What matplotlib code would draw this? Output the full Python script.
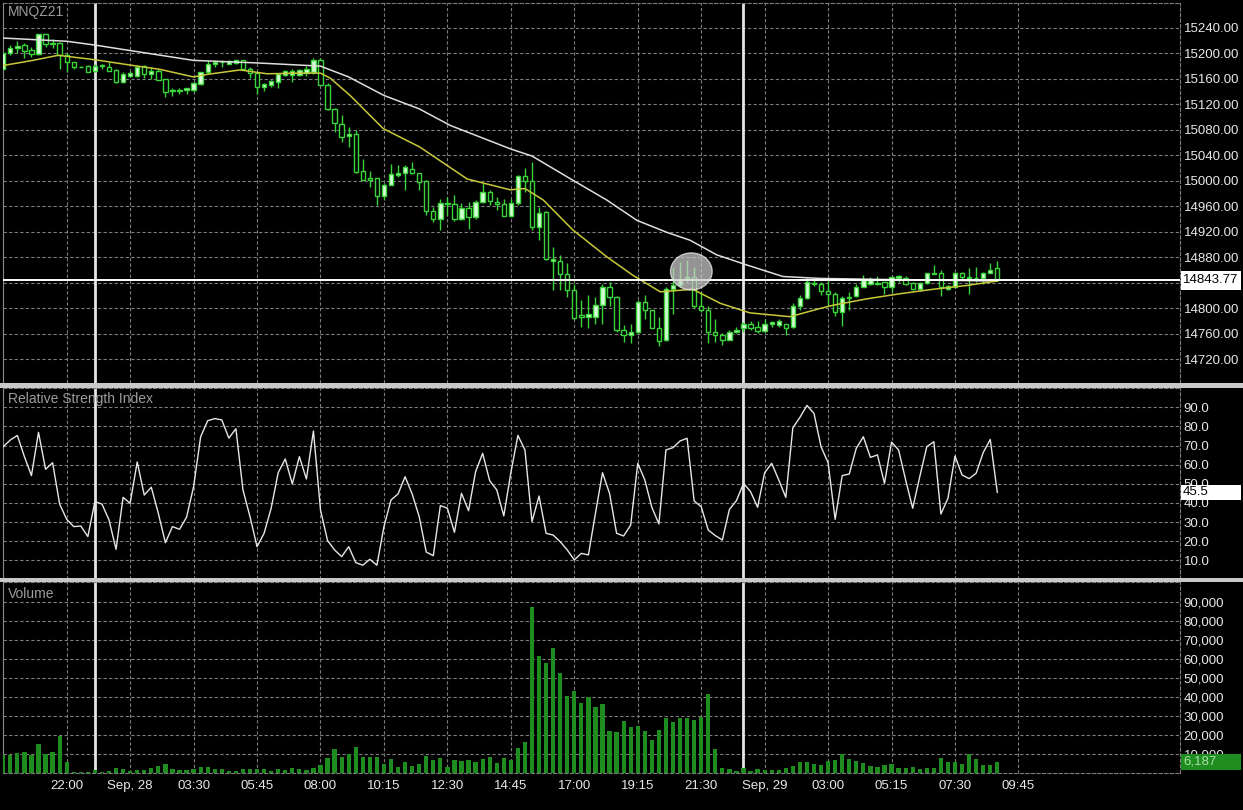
import numpy as np
import matplotlib
matplotlib.use("Agg")
import matplotlib.pyplot as plt
from matplotlib.patches import Rectangle, Ellipse
from matplotlib.transforms import blended_transform_factory
from matplotlib.ticker import FixedLocator, FuncFormatter

plt.rcParams['font.family'] = ['Liberation Sans', 'DejaVu Sans']

# ---------------- data ----------------
symbol = "MNQZ21"
rsi_title = "Relative Strength Index"
vol_title = "Volume"

opens = [15175, 15200, 15208, 15213, 15205, 15199, 15230, 15214, 15217, 15197,
         15186, 15179, 15180, 15172, 15180, 15179, 15174, 15155, 15164, 15165,
         15180, 15168, 15172, 15160, 15141, 15141, 15142, 15143, 15152, 15170,
         15184, 15186, 15184, 15185, 15189, 15176, 15169, 15148, 15151, 15155,
         15166, 15166, 15166, 15169, 15170, 15190, 15151, 15112, 15090, 15070,
         15074, 15015, 15005, 15004, 14977, 14994, 15010, 15013, 15018, 15013,
         15000, 14953, 14941, 14963, 14963, 14940, 14957, 14944, 14967, 14983,
         14967, 14963, 14945, 14965, 15008, 15000, 14928, 14951, 14874, 14874,
         14854, 14829, 14790, 14787, 14786, 14805, 14834, 14818, 14766, 14758,
         14763, 14810, 14797, 14770, 14750, 14831, 14837, 14847, 14850, 14803,
         14797, 14763, 14758, 14751, 14763, 14770, 14776, 14771, 14765, 14775,
         14774, 14775, 14771, 14803, 14816, 14839, 14839, 14828, 14823, 14795,
         14816, 14819, 14834, 14839, 14839, 14841, 14833, 14847, 14848, 14840,
         14830, 14840, 14854, 14856, 14831, 14834, 14856, 14850, 14847, 14848,
         14856, 14863]
highs = [15201, 15213, 15220, 15217, 15210, 15231, 15231, 15222, 15218, 15200,
         15186, 15180, 15181, 15184, 15184, 15186, 15175, 15171, 15173, 15182,
         15182, 15179, 15176, 15160, 15145, 15145, 15146, 15155, 15171, 15189,
         15189, 15189, 15190, 15190, 15190, 15179, 15171, 15154, 15158, 15169,
         15174, 15176, 15176, 15180, 15192, 15192, 15153, 15114, 15103, 15085,
         15080, 15034, 15016, 15005, 14996, 15027, 15025, 15025, 15030, 15013,
         15001, 14959, 14972, 14974, 14978, 14965, 14967, 14970, 14996, 14986,
         14975, 14972, 14972, 15009, 15020, 15030, 14959, 14952, 14897, 14883,
         14871, 14839, 14813, 14821, 14818, 14839, 14842, 14819, 14774, 14775,
         14813, 14821, 14798, 14787, 14834, 14865, 14873, 14876, 14865, 14826,
         14803, 14784, 14762, 14766, 14771, 14779, 14781, 14781, 14784, 14781,
         14784, 14775, 14808, 14821, 14847, 14844, 14842, 14844, 14826, 14820,
         14826, 14839, 14852, 14850, 14851, 14842, 14851, 14852, 14851, 14842,
         14842, 14856, 14868, 14860, 14837, 14857, 14857, 14863, 14865, 14857,
         14871, 14874]
lows = [15174, 15197, 15200, 15192, 15195, 15197, 15210, 15209, 15176, 15171,
        15176, 15178, 15170, 15170, 15176, 15173, 15154, 15154, 15163, 15163,
        15161, 15160, 15158, 15132, 15133, 15136, 15136, 15140, 15150, 15168,
        15179, 15179, 15183, 15183, 15174, 15162, 15136, 15141, 15148, 15146,
        15164, 15155, 15164, 15165, 15168, 15150, 15111, 15077, 15061, 15053,
        15012, 15001, 14990, 14962, 14970, 14993, 15006, 14986, 15011, 14986,
        14946, 14936, 14923, 14946, 14937, 14938, 14925, 14941, 14966, 14962,
        14955, 14945, 14944, 14962, 14983, 14923, 14907, 14876, 14829, 14829,
        14818, 14784, 14771, 14769, 14775, 14775, 14803, 14763, 14748, 14745,
        14762, 14784, 14769, 14741, 14749, 14792, 14834, 14842, 14801, 14795,
        14746, 14748, 14742, 14750, 14762, 14763, 14766, 14761, 14763, 14771,
        14771, 14758, 14770, 14798, 14814, 14835, 14821, 14803, 14788, 14772,
        14797, 14818, 14833, 14837, 14837, 14823, 14826, 14842, 14837, 14829,
        14828, 14839, 14854, 14820, 14829, 14833, 14844, 14822, 14842, 14839,
        14855, 14843]
closes = [15200, 15208, 15212, 15204, 15199, 15230, 15215, 15217, 15197, 15186,
          15179, 15178.5, 15171, 15180, 15181, 15173, 15155, 15168, 15169, 15179,
          15168, 15172, 15158, 15140, 15143, 15143, 15145, 15153, 15170, 15184,
          15187, 15187, 15188, 15189, 15175, 15169, 15148, 15152, 15156, 15167,
          15173, 15172, 15174, 15175, 15190, 15151, 15112, 15091, 15069, 15074,
          15014, 15001, 15002, 14977, 14994, 15011, 15013, 15021, 15012, 14999,
          14952, 14941, 14965, 14966, 14940, 14958, 14944, 14967, 14983, 14969,
          14963, 14945, 14965, 15008, 15000, 14928, 14949, 14877, 14878, 14854,
          14829, 14785, 14787, 14791, 14805, 14834, 14818, 14766, 14758, 14763,
          14810, 14797, 14770, 14749, 14831, 14837, 14844, 14850, 14803, 14797,
          14763, 14758, 14751, 14763, 14766, 14775, 14770, 14765, 14776, 14778,
          14780, 14769, 14803, 14816, 14842, 14840, 14828, 14823, 14795, 14816,
          14818, 14834, 14844, 14845, 14840, 14833, 14850, 14851, 14839, 14830,
          14840, 14855, 14856, 14834, 14835, 14856, 14849, 14847, 14848, 14856,
          14861, 14843.77]
last_price = 14843.77

# moving averages read at sampled bar positions
ma_fast_idx = [0, 4.2, 7.8, 13, 18.4, 22.2, 27, 28.9, 33.6, 37.4, 42.1, 45, 46.4,
               49.2, 53.9, 59.1, 65.8, 71.9, 74, 76.6, 80.8, 85.6, 89.3, 93.2,
               97.8, 101.7, 105.9, 111.6, 115.9, 117.7, 122.5, 127.2, 131.9, 136.7, 141]
ma_fast_val = [15181, 15189, 15197, 15190, 15181, 15175, 15163, 15167, 15174, 15168,
               15169, 15169, 15161, 15134, 15082, 15053, 15003, 14986, 14988, 14970,
               14923, 14881, 14852, 14826, 14830, 14808, 14793, 14787, 14800, 14805,
               14815, 14823, 14830, 14836, 14843]
ma_slow_idx = [0, 9, 13, 27, 36, 45, 49, 54, 59, 63.4, 72, 75, 80.8, 85.6, 89.9,
               94.2, 97.4, 101.2, 105.5, 110.6, 115.9, 127, 141]
ma_slow_val = [15224, 15219, 15213, 15189, 15185, 15180, 15163, 15134, 15113, 15087,
               15050, 15039, 15001, 14970, 14938, 14919, 14907, 14884, 14868, 14850,
               14847, 14845, 14843]

rsi = [69.4, 72.9, 75.3, 64.2, 54.3, 76.9, 57.6, 61.0, 39.4, 31.4, 27.6, 27.9, 22.4,
       40.7, 39.4, 31.1, 15.7, 42.9, 39.8, 61.4, 44.1, 48.2, 34.5, 19.2, 27.6, 26.2,
       32.5, 48.5, 74.6, 83.0, 84.1, 83.4, 73.9, 78.8, 46.8, 32.8, 17.1, 24.1, 37.2,
       55.8, 63.0, 49.9, 64.2, 52.5, 77.6, 36.3, 20.3, 15.4, 11.9, 17.1, 8.8, 7.4,
       10.5, 7.4, 27.6, 41.5, 44.7, 53.7, 44.7, 32.8, 14.3, 12.4, 38.6, 37.2, 24.6,
       45.0, 35.9, 56.3, 65.9, 51.6, 46.8, 33.2, 55.8, 75.3, 67.7, 30.2, 43.6, 24.1,
       23.2, 19.7, 15.4, 10.2, 13.6, 12.8, 34.5, 55.8, 45.0, 24.1, 22.7, 28.4, 60.7,
       52.0, 37.7, 29.0, 67.7, 68.9, 72.4, 73.8, 41.0, 38.0, 25.8, 22.9, 20.6, 36.6,
       41.2, 50.2, 45.9, 37.7, 55.8, 60.7, 52.0, 42.9, 79.3, 84.7, 91.0, 86.8, 69.4,
       61.0, 31.4, 54.3, 55.1, 68.6, 74.6, 63.8, 65.1, 50.2, 71.8, 67.7, 52.0, 37.2,
       53.7, 69.4, 72.0, 34.2, 42.4, 64.5, 54.6, 52.7, 55.5, 66.3, 73.2, 45.5]
last_rsi = 45.5

volume = [9660, 9660, 10540, 11060, 9660, 15430, 10010, 11060, 19800, 5820,
          600, 930, 600, 1800, 580, 1280, 2670, 2150, 1280, 1800,
          1800, 2670, 3900, 4950, 2150, 1800, 1800, 2330, 3200, 3200,
          2150, 2150, 1450, 1450, 2150, 2330, 2150, 2150, 1450, 2150,
          1800, 2670, 2150, 1800, 2670, 4420, 7910, 12800, 8440, 10190,
          13680, 8440, 8440, 8440, 4950, 7390, 3200, 5820, 3900, 4950,
          9140, 7040, 7910, 3200, 7040, 6690, 7040, 5820, 7390, 8440,
          5300, 7910, 7040, 13150, 16300, 87050, 61550, 57700, 65570, 52460,
          40760, 43200, 36740, 40240, 34650, 36220, 22420, 21890, 27660, 24520,
          25040, 22240, 17520, 22770, 29230, 27130, 29230, 29230, 28010, 29750,
          41630, 12810, 2680, 2150, 1280, 2680, 1280, 2330, 1800, 1800,
          1800, 3020, 3900, 6170, 6170, 4950, 4420, 6690, 7040, 10010,
          7570, 6690, 5640, 3900, 3200, 4420, 4950, 2680, 3020, 3200,
          2330, 2680, 3020, 8090, 6170, 5820, 4950, 10010, 7570, 4420,
          4420, 6187]
last_volume = 6187

x_tick_labels = ["22:00", "Sep, 28", "03:30", "05:45", "08:00", "10:15", "12:30",
                 "14:45", "17:00", "19:15", "21:30", "Sep, 29", "03:00", "05:15",
                 "07:30", "09:45"]
x_tick_bars = [9, 18, 27, 36, 45, 54, 63, 72, 81, 90, 99, 108, 117, 126, 135, 144]
day_break_bars = [13, 105]
price_ticks = list(range(14720, 15241, 40))
rsi_ticks = [10, 20, 30, 40, 50, 60, 70, 80, 90]
vol_ticks = [10000, 20000, 30000, 40000, 50000, 60000, 70000, 80000, 90000]
highlight_bar, highlight_price = 97.6, 14858

# ---------------- style ----------------
GREEN = '#3ad43a'
BULL_FILL = '#d6ffd6'
VOL_GREEN = '#1f8c1f'
GRID = '#7c7c7c'
TXT = '#e8e8e8'
DASH = (0, (3, 2))

W, H = 1243, 810
fig = plt.figure(figsize=(W / 100, H / 100), dpi=100, facecolor='black')


def px_axes(left, top, right, bottom):
    return fig.add_axes([left / W, 1 - bottom / H, (right - left) / W, (bottom - top) / H])


ax_p = px_axes(3, 3, 1180, 383)
ax_r = px_axes(3, 388, 1180, 579)
ax_v = px_axes(3, 582, 1180, 773.4)

x_left = -0.035
x_right = x_left + 1177 / 7.05

for ax in (ax_p, ax_r, ax_v):
    ax.set_facecolor('black')
    ax.set_xlim(x_left, x_right)
    ax.xaxis.set_major_locator(FixedLocator(x_tick_bars))
    ax.yaxis.tick_right()
    ax.tick_params(axis='both', length=0, colors=TXT, labelsize=9.5, pad=2.5)
    ax.grid(True, color=GRID, linestyle=DASH, linewidth=0.8)
    ax.set_axisbelow(True)
    for name, sp in ax.spines.items():
        sp.set_visible(False)
    ax.spines['left'].set_visible(True)
    ax.spines['left'].set_color('#8a8a8a')
    ax.spines['right'].set_visible(True)
    ax.spines['right'].set_color(GRID)
    ax.spines['right'].set_linestyle(DASH)
    ax.spines['top'].set_visible(True)
    ax.spines['top'].set_color(GRID)
    ax.spines['top'].set_linestyle(DASH)
    for b in day_break_bars:
        ax.axvline(b, color='#e6e6e6', lw=2, zorder=1.5)

ax_p.tick_params(labelbottom=False)
ax_r.tick_params(labelbottom=False)
ax_v.set_xticklabels(x_tick_labels)
ax_v.tick_params(axis='x', pad=5)
ax_v.spines['bottom'].set_visible(True)
ax_v.spines['bottom'].set_color(GRID)
ax_v.spines['bottom'].set_linestyle(DASH)

# ---------------- price panel ----------------
o = np.array(opens, float)
h = np.array(highs, float)
l = np.array(lows, float)
c = np.array(closes, float)
idx = np.arange(len(c))
up = c >= o
body_bot = np.minimum(o, c)
body_h = np.maximum(np.abs(c - o), 0.9)

ax_p.vlines(idx, l, h, color=GREEN, lw=1, zorder=2)
ax_p.bar(idx[up], body_h[up], bottom=body_bot[up], width=0.62, color=BULL_FILL,
         edgecolor=GREEN, linewidth=1, zorder=3)
ax_p.bar(idx[~up], body_h[~up], bottom=body_bot[~up], width=0.62, color='black',
         edgecolor=GREEN, linewidth=1, zorder=3)
ax_p.plot(ma_slow_idx, ma_slow_val, color='#dedede', lw=1.1, zorder=4)
ax_p.plot(ma_fast_idx, ma_fast_val, color='#c9c83a', lw=1.1, zorder=4)
ax_p.axhline(last_price, color='white', lw=1.4, zorder=4.5)
ax_p.add_patch(Ellipse((highlight_bar, highlight_price), width=5.9, height=58,
                       facecolor='#cfcfcf', edgecolor='#eeeeee', alpha=0.72, zorder=6))
ax_p.set_ylim(14683, 15279)
ax_p.yaxis.set_major_locator(FixedLocator(price_ticks))
ax_p.yaxis.set_major_formatter(FuncFormatter(lambda v, _: f"{v:.2f}"))

tr_p = blended_transform_factory(ax_p.transAxes, ax_p.transData)
ax_p.add_patch(Rectangle((1.0008, last_price - 14.5), 0.0508, 29, transform=tr_p,
                         facecolor='white', edgecolor='none', clip_on=False, zorder=10))
ax_p.text(1.0025, last_price, f"{last_price:.2f}", transform=tr_p, color='black',
          fontsize=9.5, va='center', ha='left', clip_on=False, zorder=11)

# ---------------- RSI panel ----------------
ax_r.plot(idx, rsi, color='#e6e6e6', lw=1, zorder=3)
ax_r.set_ylim(0.2, 100.1)
ax_r.yaxis.set_major_locator(FixedLocator(rsi_ticks))
ax_r.yaxis.set_major_formatter(FuncFormatter(lambda v, _: f"{v:.1f}"))
tr_r = blended_transform_factory(ax_r.transAxes, ax_r.transData)
ax_r.add_patch(Rectangle((1.0008, last_rsi - 4.1), 0.0508, 8.2, transform=tr_r,
                         facecolor='white', edgecolor='none', clip_on=False, zorder=10))
ax_r.text(1.0025, last_rsi, f"{last_rsi:.1f}", transform=tr_r, color='black',
          fontsize=9.5, va='center', ha='left', clip_on=False, zorder=11)

# ---------------- Volume panel ----------------
ax_v.bar(idx, volume, width=0.6, color=VOL_GREEN, zorder=3)
ax_v.set_ylim(0, 100330)
ax_v.yaxis.set_major_locator(FixedLocator(vol_ticks))
ax_v.yaxis.set_major_formatter(FuncFormatter(lambda v, _: f"{int(v):,}"))
tr_v = blended_transform_factory(ax_v.transAxes, ax_v.transData)
ax_v.add_patch(Rectangle((1.0008, last_volume - 4200), 0.0508, 8400, transform=tr_v,
                         facecolor=VOL_GREEN, edgecolor='none', clip_on=False, zorder=10))
ax_v.text(1.0025, last_volume, f"{last_volume:,}", transform=tr_v, color='#a6e0a6',
          fontsize=9.5, va='center', ha='left', clip_on=False, zorder=11)

# ---------------- panel separators & titles ----------------
for y0, y1 in [(383.5, 387.5), (577.5, 581.5)]:
    fig.add_artist(Rectangle((0, 1 - y1 / H), 1, (y1 - y0) / H, transform=fig.transFigure,
                             facecolor='#c8c8c8', edgecolor='none', zorder=20))

fig.text(8 / W, 1 - 12 / H, symbol, color='#9c9c9c', fontsize=10, va='center', ha='left')
fig.text(8 / W, 1 - 399 / H, rsi_title, color='#9c9c9c', fontsize=10, va='center', ha='left')
fig.text(8 / W, 1 - 594 / H, vol_title, color='#9c9c9c', fontsize=10, va='center', ha='left')

fig.savefig("out.png", dpi=100, facecolor='black')
